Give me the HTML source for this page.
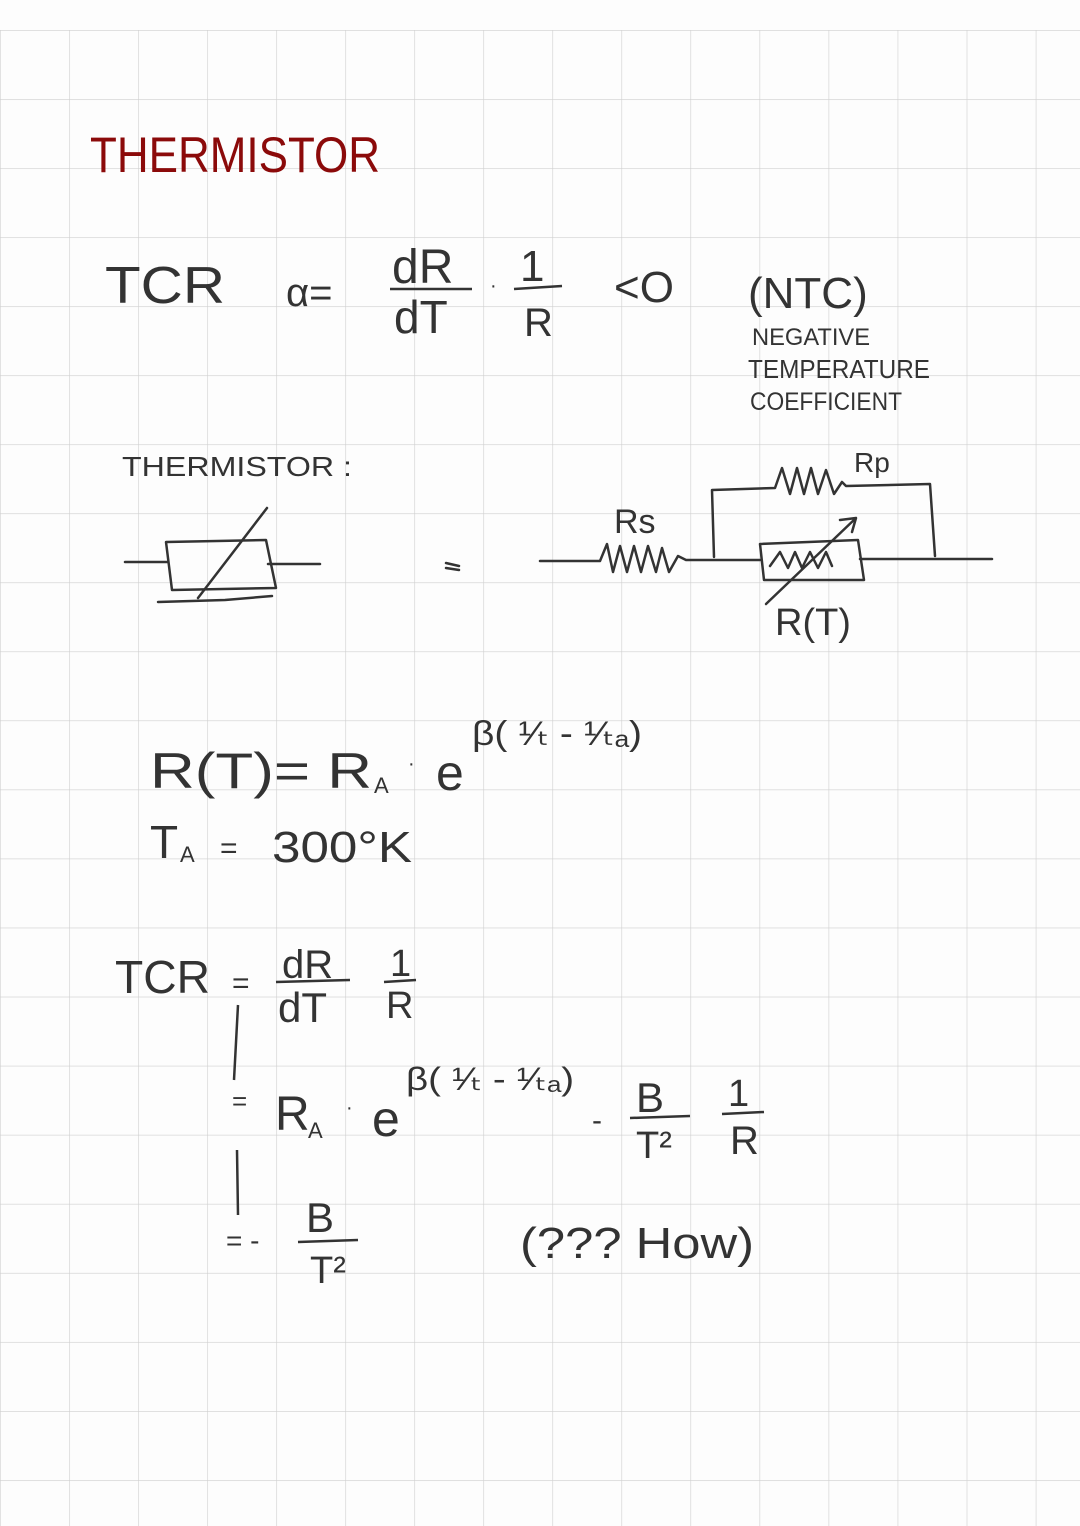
<!DOCTYPE html>
<html><head><meta charset="utf-8"><style>
html,body{margin:0;padding:0;background:#fdfdfd}
svg{display:block}
text{font-family:"Liberation Sans",sans-serif;fill:#333}
</style></head><body>
<svg width="1080" height="1526" viewBox="0 0 1080 1526" xmlns="http://www.w3.org/2000/svg">
<defs>
<pattern id="g" x="0" y="30" width="69.05" height="69.05" patternUnits="userSpaceOnUse">
<path d="M0 0H69.05M0 0V69.05" stroke="#cfcfcf" stroke-width="1.2" fill="none"/>
</pattern>
</defs>
<rect width="1080" height="1526" fill="#fdfdfd"/>
<rect x="0" y="30" width="1080" height="1496" fill="url(#g)"/>

<text x="90" y="172" font-size="50" style="fill:#8b0a0a" textLength="290" lengthAdjust="spacingAndGlyphs">THERMISTOR</text>

<g font-weight="300">
<text x="105" y="303" font-size="52" textLength="120" lengthAdjust="spacingAndGlyphs">TCR</text>
<text x="286" y="306" font-size="40">α=</text>
<text x="392" y="283" font-size="48">dR</text>
<line x1="390" y1="289" x2="472" y2="289" stroke="#333" stroke-width="2.5"/>
<text x="394" y="333" font-size="46">dT</text>
<text x="490" y="292" font-size="20">·</text>
<text x="520" y="281" font-size="44">1</text>
<line x1="514" y1="289" x2="562" y2="286" stroke="#333" stroke-width="2.5"/>
<text x="524" y="336" font-size="40">R</text>
<text x="614" y="302" font-size="44">&lt;O</text>
<text x="748" y="308" font-size="44">(NTC)</text>
<text x="752" y="345" font-size="24" textLength="118" lengthAdjust="spacingAndGlyphs">NEGATIVE</text>
<text x="748" y="378" font-size="26" textLength="182" lengthAdjust="spacingAndGlyphs">TEMPERATURE</text>
<text x="750" y="410" font-size="25" textLength="152" lengthAdjust="spacingAndGlyphs">COEFFICIENT</text>

<text x="122" y="476" font-size="28" textLength="230" lengthAdjust="spacingAndGlyphs">THERMISTOR :</text>
</g>

<g stroke="#333" stroke-width="2.5" fill="none" stroke-linecap="round" stroke-linejoin="round">
<path d="M125 562H168M268 564H320"/>
<path d="M166 542L172 590L276 588L266 540Z"/>
<path d="M158 602L225 600L272 596"/>
<path d="M198 598L267 508"/>
<path d="M446 563L459 566M446 568L459 570"/>
<path d="M540 561H600L607 544L613 572L620 546L627 572L634 546L641 572L648 546L656 572L662 548L669 572L678 556L686 560H760M860 559H992"/>
<path d="M714 557L712 490L775 488L782 468L790 494L797 468L804 494L811 468L818 494L826 470L834 494L842 482L846 486L930 484L935 556"/>
<path d="M760 544L858 540L864 580L764 580Z"/>
<path d="M770 566L780 552L788 568L795 552L802 568L810 552L818 568L826 552L832 566"/>
<path d="M766 604L856 518M840 520L856 518L852 532"/>
</g>
<g font-weight="300">
<text x="614" y="533" font-size="34">Rs</text>
<text x="854" y="472" font-size="28">Rp</text>
<text x="775" y="635" font-size="38">R(T)</text>

<text x="150" y="788" font-size="50" textLength="222" lengthAdjust="spacingAndGlyphs">R(T)= R</text>
<text x="374" y="793" font-size="22">A</text>
<text x="408" y="770" font-size="20">·</text>
<text x="436" y="790" font-size="50">e</text>
<text x="472" y="745" font-size="34" textLength="170" lengthAdjust="spacingAndGlyphs">β( ¹⁄ₜ - ¹⁄ₜₐ)</text>
<text x="150" y="858" font-size="46">T</text>
<text x="180" y="862" font-size="22">A</text>
<text x="220" y="858" font-size="30">=</text>
<text x="272" y="862" font-size="44" textLength="140" lengthAdjust="spacingAndGlyphs">300°K</text>

<text x="115" y="993" font-size="46" textLength="95" lengthAdjust="spacingAndGlyphs">TCR</text>
<text x="232" y="993" font-size="30">=</text>
<text x="282" y="978" font-size="40">dR</text>
<line x1="276" y1="982" x2="350" y2="980" stroke="#333" stroke-width="2.5"/>
<text x="278" y="1022" font-size="42">dT</text>
<text x="390" y="976" font-size="38">1</text>
<line x1="384" y1="982" x2="416" y2="980" stroke="#333" stroke-width="2.5"/>
<text x="386" y="1018" font-size="38">R</text>
<path d="M238 1005L234 1080M237 1150L238 1215" stroke="#333" stroke-width="2.5" fill="none"/>
<text x="232" y="1110" font-size="26">=</text>
<text x="275" y="1130" font-size="48">R</text>
<text x="308" y="1138" font-size="22">A</text>
<text x="346" y="1114" font-size="20">·</text>
<text x="372" y="1136" font-size="50">e</text>
<text x="406" y="1090" font-size="32" textLength="168" lengthAdjust="spacingAndGlyphs">β( ¹⁄ₜ - ¹⁄ₜₐ)</text>
<text x="592" y="1130" font-size="30">-</text>
<text x="636" y="1112" font-size="42">B</text>
<line x1="630" y1="1118" x2="690" y2="1116" stroke="#333" stroke-width="2.5"/>
<text x="636" y="1158" font-size="38">T²</text>
<text x="728" y="1106" font-size="38">1</text>
<line x1="722" y1="1114" x2="764" y2="1112" stroke="#333" stroke-width="2.5"/>
<text x="730" y="1154" font-size="40">R</text>
<text x="226" y="1250" font-size="28">= -</text>
<text x="306" y="1232" font-size="42">B</text>
<line x1="298" y1="1242" x2="358" y2="1240" stroke="#333" stroke-width="2.5"/>
<text x="310" y="1283" font-size="38">T²</text>
<text x="520" y="1258" font-size="44" textLength="234" lengthAdjust="spacingAndGlyphs">(??? How)</text>
</g>
</svg>
</body></html>
